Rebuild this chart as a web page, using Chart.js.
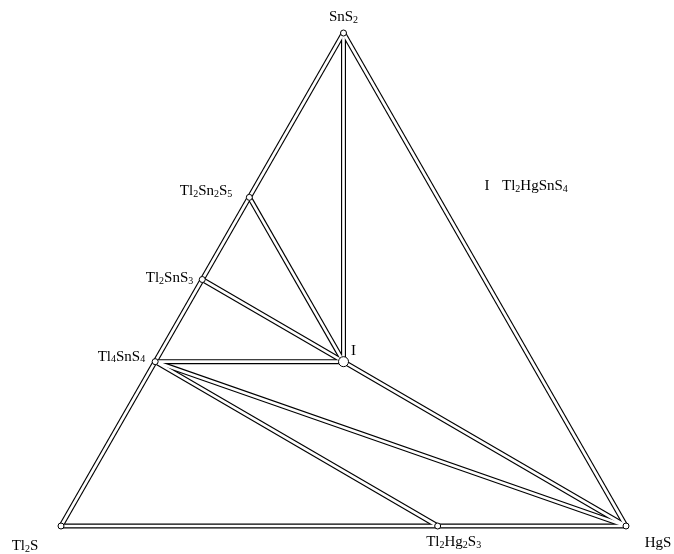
<!DOCTYPE html>
<html>
<head>
<meta charset="utf-8">
<style>
  html, body { margin: 0; padding: 0; background: #fff; }
  canvas { display: block; }
</style>
<script src="https://cdn.jsdelivr.net/npm/chart.js@4/dist/chart.umd.min.js"></script>
</head>
<body>
<canvas id="chart" width="674" height="554"></canvas>
<script>
// Tl2S - HgS - SnS2 section, compositions as mole fractions
const phases = ["Tl2S", "HgS", "SnS2", "Tl2Sn2S5", "Tl2SnS3", "Tl4SnS4", "Tl2Hg2S3", "I"];
const hgsFraction = [0, 1, 0, 0, 0, 0, 2 / 3, 1 / 3];
const sns2Fraction = [0, 0, 1, 2 / 3, 1 / 2, 1 / 3, 0, 1 / 3];

// tie lines and edges of the triangle
const tieLines = [
  ["Tl2S", "SnS2"], ["SnS2", "HgS"], ["Tl2S", "HgS"],
  ["SnS2", "I"], ["Tl2Sn2S5", "I"], ["Tl2SnS3", "I"], ["Tl4SnS4", "I"],
  ["I", "HgS"], ["Tl4SnS4", "HgS"], ["Tl4SnS4", "Tl2Hg2S3"],
];

// label text, "_" marks a subscript digit
const labels = ["Tl_2S", "HgS", "SnS_2", "Tl_2Sn_2S_5", "Tl_2SnS_3", "Tl_4SnS_4", "Tl_2Hg_2S_3", "I"];
const legendText = "Tl_2HgSnS_4";

/** ternary composition -> plot coordinates */
function toXY(name) {
  const i = phases.indexOf(name);
  return { x: hgsFraction[i] + sns2Fraction[i] / 2, y: sns2Fraction[i] };
}

const datasets = [];
for (const [a, b] of tieLines) {
  const pts = [toXY(a), toXY(b)];
  datasets.push({
    data: pts, showLine: true, pointRadius: 0,
    borderColor: "#000", borderWidth: 5, order: 3,
  });
  datasets.push({
    data: pts, showLine: true, pointRadius: 0,
    borderColor: "#fff", borderWidth: 2.7, order: 2,
  });
}
datasets.push({
  data: phases.filter((p) => p !== "I").map(toXY),
  showLine: false, pointRadius: 3, pointBorderWidth: 1,
  pointBackgroundColor: "#fff", pointBorderColor: "#000", order: 1,
});
datasets.push({
  data: [toXY("I")],
  showLine: false, pointRadius: 5, pointBorderWidth: 1,
  pointBackgroundColor: "#fff", pointBorderColor: "#000", order: 0,
});

const FONT = "'Liberation Serif', 'Times New Roman', serif";
const MAIN = 15;
const SUB = 10;

function textWidth(ctx, s) {
  let w = 0;
  for (let k = 0; k < s.length; k++) {
    if (s[k] === "_") {
      ctx.font = SUB + "px " + FONT;
      w += ctx.measureText(s[k + 1]).width;
      k++;
    } else {
      ctx.font = MAIN + "px " + FONT;
      w += ctx.measureText(s[k]).width;
    }
  }
  return w;
}

function drawFormula(ctx, s, x, y, align) {
  let cx = x;
  const w = textWidth(ctx, s);
  if (align === "right") cx = x - w;
  if (align === "center") cx = x - w / 2;
  ctx.textBaseline = "middle";
  ctx.textAlign = "left";
  ctx.fillStyle = "#000";
  for (let k = 0; k < s.length; k++) {
    if (s[k] === "_") {
      ctx.font = SUB + "px " + FONT;
      ctx.fillText(s[k + 1], cx, y + 3);
      cx += ctx.measureText(s[k + 1]).width;
      k++;
    } else {
      ctx.font = MAIN + "px " + FONT;
      ctx.fillText(s[k], cx, y);
      cx += ctx.measureText(s[k]).width;
    }
  }
}

// label offsets from each point, in px: [dx, dy, align]
const labelPlacement = {
  "Tl2S": [-36, 20, "center"],
  "HgS": [32, 17, "center"],
  "SnS2": [0, -16, "center"],
  "Tl2Sn2S5": [-17, -6, "right"],
  "Tl2SnS3": [-9, -1, "right"],
  "Tl4SnS4": [-10, -5, "right"],
  "Tl2Hg2S3": [16, 16, "center"],
  "I": [10, -11, "center"],
};

const labelPlugin = {
  id: "phaseLabels",
  afterDatasetsDraw(chart) {
    const { ctx, scales } = chart;
    ctx.save();
    phases.forEach((p, i) => {
      const pt = toXY(p);
      const px = scales.x.getPixelForValue(pt.x);
      const py = scales.y.getPixelForValue(pt.y);
      const [dx, dy, align] = labelPlacement[p];
      drawFormula(ctx, labels[i], px + dx, py + dy, align);
    });
    // key for the ternary compound
    drawFormula(ctx, "I", 487, 186, "center");
    drawFormula(ctx, legendText, 502, 186, "left");
    ctx.restore();
  },
};

new Chart(document.getElementById("chart"), {
  type: "scatter",
  data: { datasets },
  options: {
    responsive: false,
    animation: false,
    layout: { padding: 0, autoPadding: false },
    scales: {
      x: { type: "linear", display: false, min: -61 / 565, max: 613 / 565 },
      y: { type: "linear", display: false, min: -28 / 493, max: 1 + 33 / 493 },
    },
    plugins: { legend: { display: false }, tooltip: { enabled: false } },
  },
  plugins: [labelPlugin],
});
</script>
</body>
</html>
